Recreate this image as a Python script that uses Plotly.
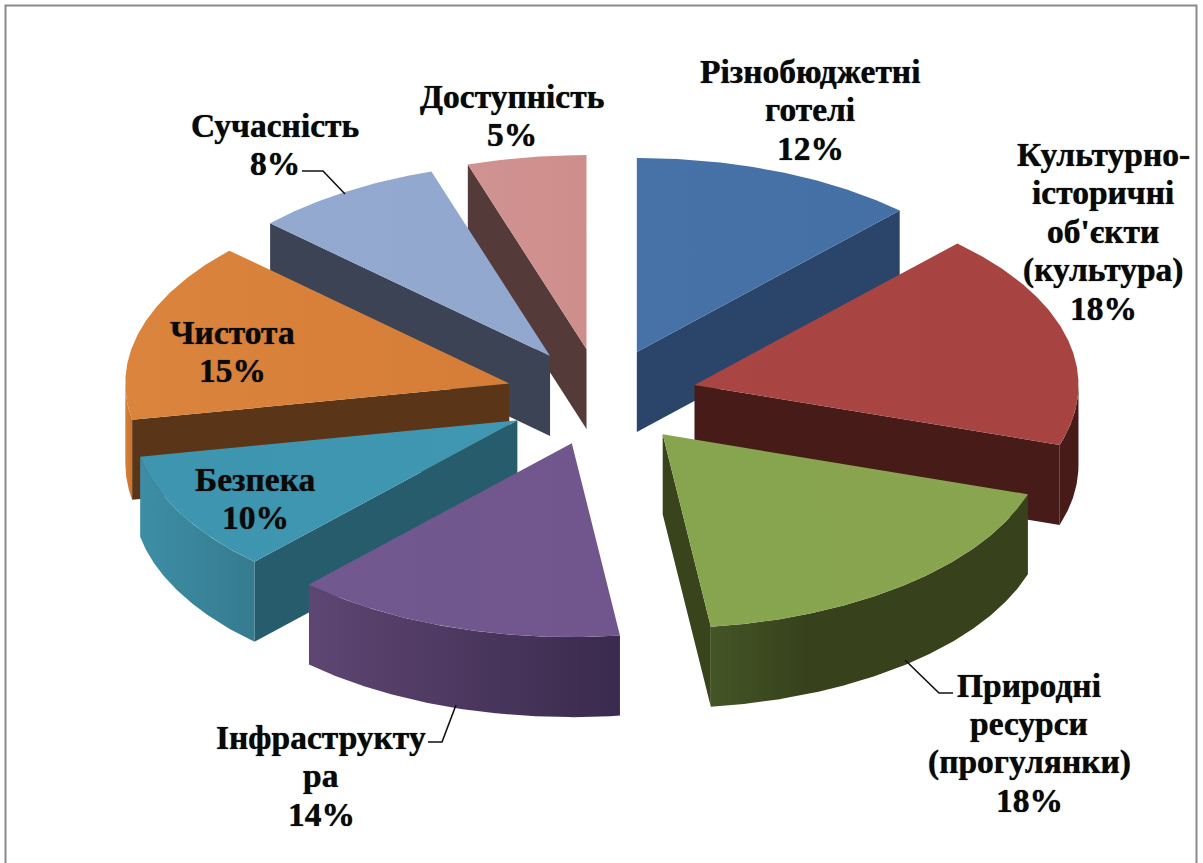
import math
import plotly.graph_objects as go

# ---- data ----
names = ["Різнобюджетні готелі", "Культурно-історичні об'єкти (культура)",
         "Природні ресурси (прогулянки)", "Інфраструктура", "Безпека",
         "Чистота", "Сучасність", "Доступність"]
values = [12, 18, 18, 14, 10, 15, 8, 5]

# ---- label text (lines) and placement, chart pixels ----
label_lines = [["Різнобюджетні", "готелі"],
               ["Культурно-", "історичні", "об'єкти", "(культура)"],
               ["Природні", "ресурси", "(прогулянки)"],
               ["Інфраструкту", "ра"],
               ["Безпека"],
               ["Чистота"],
               ["Сучасність"],
               ["Доступність"]]
label_x = [810, 1103, 1029, 321, 255, 232, 275, 512]
label_first_y = [71, 154, 685, 737, 479, 332, 125, 96]
line_gap = 38.5
font_size = 33.5

# ---- style ----
top_left = ["#4672A8", "#A94543", "#87A44E", "#71588F", "#3E95AF", "#DB843D", "#93A9CF", "#D09391"]
top_right = ["#4470A5", "#A74341", "#89A54F", "#70568D", "#4097B1", "#D57D36", "#92A7CE", "#CE8E8C"]
wall = ["#2A4569", "#461B18", "#39441D", "#3F2E52", "#265C6C", "#5A3517", "#3C4355", "#553A3A"]
rim_left = ["#2A4569", "#461B18", "#445526", "#5E4672", "#3D8EA5", "#D6803A", "#3C4355", "#553A3A"]
rim_right = ["#2A4569", "#461B18", "#37421C", "#3A2A4D", "#367B8F", "#C9752F", "#3C4355", "#553A3A"]
rim_stop = [1, 1, 0.3, 1, 1, 1, 1, 1]
draw_order = [7, 0, 6, 1, 5, 4, 2, 3]

CX, CY, RX, RY, DEPTH, EXPLODE = 601.5, 397.0, 384.0, 194.0, 80.0, 0.25


def pt(ox, oy, deg):
    r = math.radians(deg)
    return ox + RX * math.sin(r), oy - RY * math.cos(r)


def arc(ox, oy, a, b):
    n = max(2, int(abs(b - a) / 0.5))
    return [pt(ox, oy, a + (b - a) * i / n) for i in range(n + 1)]


def poly(points, name, color=None, grad=None):
    xs = [p[0] for p in points] + [points[0][0]]
    ys = [p[1] for p in points] + [points[0][1]]
    kw = dict(fillcolor=color) if grad is None else dict(
        fillgradient=dict(type="horizontal", colorscale=grad))
    return go.Scatter(x=xs, y=ys, mode="lines", fill="toself", line=dict(width=0),
                      name=name, showlegend=False, hoverinfo="skip", **kw)


total = sum(values)
starts, acc = [], 0
for v in values:
    starts.append(acc * 360 / total)
    acc += v

fig = go.Figure()
for i in draw_order:
    a0 = starts[i]
    a1 = a0 + values[i] * 360 / total
    mid = (a0 + a1) / 2
    r = math.radians(mid)
    ox = CX + EXPLODE * RX * math.sin(r)
    oy = CY - EXPLODE * RY * math.cos(r)
    # cut wall that faces the viewer
    wa = None
    if 0 < a1 < 180:
        wa = a1
    elif 180 < a0 < 360:
        wa = a0
    if wa is not None:
        e = pt(ox, oy, wa)
        fig.add_trace(poly([(ox, oy), e, (e[0], e[1] + DEPTH), (ox, oy + DEPTH)], names[i], wall[i]))
    # outer rim, front half only
    ra, rb = max(a0, 90), min(a1, 270)
    if rb > ra:
        upper = arc(ox, oy, ra, rb)
        lower = [(x, y + DEPTH) for x, y in reversed(upper)]
        stops = [[0, rim_left[i]], [rim_stop[i], rim_right[i]]]
        if rim_stop[i] < 1:
            stops.append([1, rim_right[i]])
        fig.add_trace(poly(upper + lower, names[i], grad=stops))
    # top face
    fig.add_trace(poly([(ox, oy)] + arc(ox, oy, a0, a1), names[i],
                       grad=[[0, top_left[i]], [1, top_right[i]]]))

# labels
for i in range(len(values)):
    lines = label_lines[i] + [f"{values[i]}%"]
    for k, t in enumerate(lines):
        fig.add_annotation(x=label_x[i], y=label_first_y[i] + k * line_gap, text=f"<b>{t}</b>",
                           showarrow=False, xanchor="center", yanchor="middle",
                           font=dict(family="Liberation Serif", size=font_size, color="#0a0a0a",
                                     shadow="0 0 1px #222"))

# leader lines and frame
leaders = [[(302, 171), (323, 171), (345, 194)],
           [(905, 660), (939, 693), (953, 693)],
           [(428, 742), (442, 742), (456, 705)]]
shapes = []
for L in leaders:
    path = "M " + " L ".join(f"{x},{y}" for x, y in L)
    shapes.append(dict(type="path", path=path, line=dict(color="#111111", width=1.6), xref="x", yref="y"))
shapes.append(dict(type="rect", x0=5.5, x1=1196.5, y0=5.5, y1=900,
                   line=dict(color="#8a8a8a", width=2), xref="x", yref="y"))

fig.update_layout(width=1203, height=863, margin=dict(l=0, r=0, t=0, b=0),
                  paper_bgcolor="white", plot_bgcolor="white", showlegend=False, shapes=shapes,
                  xaxis=dict(range=[0, 1203], visible=False, fixedrange=True),
                  yaxis=dict(range=[863, 0], visible=False, fixedrange=True))
fig.write_html("out.html", config=dict(displayModeBar=False),
               post_script="document.body.style.margin='0';document.documentElement.style.overflow='hidden';")
